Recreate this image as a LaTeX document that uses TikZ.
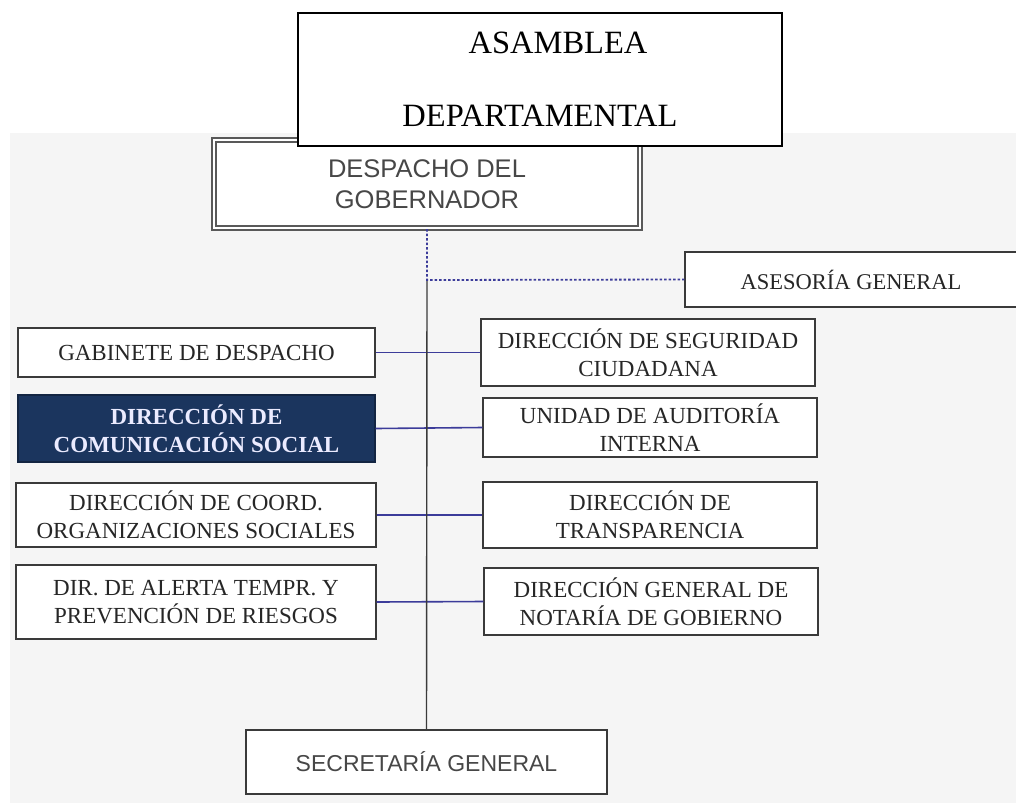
\documentclass[tikz,border=0pt]{standalone}
\usepackage{fontspec}
\setmainfont{Liberation Serif}
\setsansfont{Liberation Sans}
\definecolor{fondo}{HTML}{F5F5F5}
\definecolor{marino}{HTML}{1B355E}
\definecolor{azullinea}{HTML}{3C3C9A}
\definecolor{borde}{HTML}{3A3A3A}

\begin{document}
\begin{tikzpicture}[x=1pt,y=-1pt,
                        caja/.style={draw=borde,line width=1.3pt,fill=white,inner sep=0pt,align=center,
                            text=black!85,font=\fontsize{23}{28}\selectfont},
                        cajasans/.style={caja,font=\sffamily\fontsize{23}{31}\selectfont,text=black!72},
                        rama/.style={azullinea,line width=1.6pt}]
                        \useasboundingbox (0,0) rectangle (1016,803);
                        \fill [fondo] (10,133) rectangle (1016,803);
                        % boxes
                        \node [cajasans,draw=gray!70!black,line width=2pt,double=white,double distance=1.5pt,
                            minimum width=426,minimum height=88,font=\sffamily\fontsize{25.5}{31}\selectfont]
                            (despacho) at (427,184) {DESPACHO DEL\\GOBERNADOR};
                        \node [caja,minimum width=332,minimum height=55,font=\fontsize{22.5}{26}\selectfont]
                            (asesoria) at (851,279.5) {ASESORÍA GENERAL};
                        \node [caja,minimum width=357,minimum height=49] (gabinete) at (196.5,352.5)
                        {GABINETE DE DESPACHO};
                        \node [caja,fill=marino,draw=marino!70!black,text=white!92!blue,minimum width=357,minimum height=67,
                            font=\bfseries\fontsize{23}{28}\selectfont]
                            (comunicacion) at (196.5,428.5) {DIRECCIÓN DE\\COMUNICACIÓN SOCIAL};
                        \node [caja,minimum width=360,minimum height=64] (coord) at (196,515)
                        {DIRECCIÓN DE COORD.\\ORGANIZACIONES SOCIALES};
                        \node [caja,minimum width=360,minimum height=74] (alerta) at (196,602)
                        {DIR. DE ALERTA TEMPR. Y\\PREVENCIÓN DE RIESGOS};
                        \node [caja,minimum width=334,minimum height=67] (seguridad) at (648,352.5)
                        {DIRECCIÓN DE SEGURIDAD\\CIUDADANA};
                        \node [caja,minimum width=334,minimum height=59] (auditoria) at (650,427.5)
                        {UNIDAD DE AUDITORÍA\\INTERNA};
                        \node [caja,minimum width=334,minimum height=66] (transparencia) at (650,515)
                        {DIRECCIÓN DE\\TRANSPARENCIA};
                        \node [caja,minimum width=334,minimum height=67] (notaria) at (651,601.5)
                        {DIRECCIÓN GENERAL DE\\NOTARÍA DE GOBIERNO};
                        \node [cajasans,minimum width=361,minimum height=64] (secretaria) at (426.5,762)
                        {SECRETARÍA GENERAL};
                        % lines
                        \coordinate (ramal) at (427,280);
                        \draw [rama] (gabinete.east)--(seguridad.west);
                        \draw [rama] (comunicacion.east)--(auditoria.west);
                        \draw [rama] (coord.east)--(transparencia.west);
                        \draw [rama] (alerta.east)--(notaria.west);
                        \draw [borde,line width=1.4pt] (ramal)--(secretaria.north);
                        \draw [azullinea,line width=1.8pt,dash pattern=on 2.5pt off 2pt] (despacho.south)--(ramal)--(asesoria.west);
                        % asamblea on top
                        \node [draw=black,line width=1.6pt,fill=white,inner sep=0pt,align=center,
                            minimum width=484,minimum height=133,font=\fontsize{32.5}{73}\selectfont]
                            (asamblea) at (540,79.5) {\hspace*{36pt}ASAMBLEA\\DEPARTAMENTAL};
                    \end{tikzpicture}
\end{document}
